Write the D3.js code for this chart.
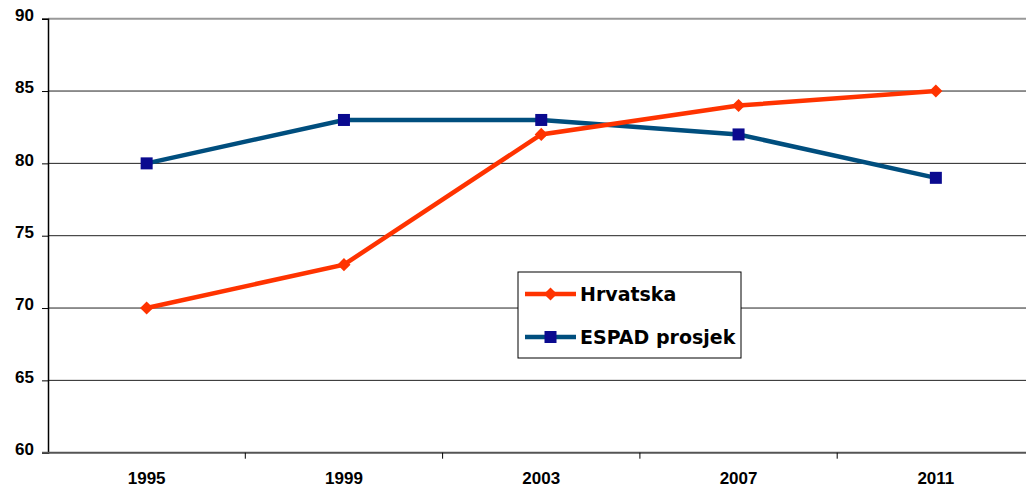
<meta charset="utf-8">
<head>
<title>Hrvatska / ESPAD prosjek</title>
<style>
body { margin: 0; background: #fff; }
svg { display: block; overflow: hidden; }
</style>
</head>
<body>
<svg width="1026" height="488"></svg>
<script src="https://d3js.org/d3.v7.min.js"></script>
<script>

var years = ["1995", "1999", "2003", "2007", "2011"];
var hrvatska = [70, 73, 82, 84, 85];
var espad = [80, 83, 83, 82, 79];
var yTicks = [60, 65, 70, 75, 80, 85, 90];

var svg = d3.select("svg");
var plotLeft = 48, plotTop = 18.7, plotBottom = 452.7;
var band = 197.3;

var x = d3.scaleBand().domain(years).range([plotLeft, plotLeft + band * years.length]);
var y = d3.scaleLinear().domain([60, 90]).range([plotBottom, plotTop]);

// horizontal grid lines
svg.append("g").selectAll("line")
  .data(yTicks.filter(function(d) { return d > 60; }))
  .enter().append("line")
  .attr("x1", plotLeft).attr("x2", 1026)
  .attr("y1", function(d) { return y(d); })
  .attr("y2", function(d) { return y(d); })
  .attr("stroke", function(d) { return d == 90 ? "#999" : "#222"; })
  .attr("stroke-width", function(d) { return d == 90 ? 2 : 1; });

// y axis
var yAxis = svg.append("g")
  .attr("transform", "translate(" + plotLeft + ",0)")
  .call(d3.axisLeft(y).tickValues(yTicks).tickSize(6).tickPadding(8));
yAxis.select(".domain").attr("stroke", "#000").attr("stroke-width", 1.5);
yAxis.selectAll(".tick line").attr("stroke", "#000");
yAxis.selectAll(".tick text")
  .attr("dy", "0.1em")
  .style("font-family", "'Liberation Sans', Arial, sans-serif")
  .style("font-weight", "bold")
  .style("font-size", "17px")
  .style("fill", "#000");

// x axis
var xAxis = svg.append("g")
  .attr("transform", "translate(0," + plotBottom + ")")
  .call(d3.axisBottom(x).tickSize(0).tickPadding(19));
xAxis.select(".domain").remove();
xAxis.selectAll(".tick text")
  .style("font-family", "'Liberation Sans', Arial, sans-serif")
  .style("font-weight", "bold")
  .style("font-size", "17px")
  .style("fill", "#000");
svg.append("line")
  .attr("x1", plotLeft - 6).attr("x2", 1026)
  .attr("y1", plotBottom).attr("y2", plotBottom)
  .attr("stroke", "#555").attr("stroke-width", 2);
svg.append("g").selectAll("line")
  .data(years.slice(1))
  .enter().append("line")
  .attr("x1", function(d) { return x(d); })
  .attr("x2", function(d) { return x(d); })
  .attr("y1", plotBottom).attr("y2", plotBottom + 6)
  .attr("stroke", "#000");

var cx = function(d, i) { return x(years[i]) + x.bandwidth() / 2; };
var line = d3.line()
  .x(function(d, i) { return x(years[i]) + x.bandwidth() / 2; })
  .y(function(d) { return y(d); });

// ESPAD prosjek
svg.append("path").datum(espad)
  .attr("d", line).attr("fill", "none")
  .attr("stroke", "#004e7e").attr("stroke-width", 4.5);

// Hrvatska
svg.append("path").datum(hrvatska)
  .attr("d", line).attr("fill", "none")
  .attr("stroke", "#ff3300").attr("stroke-width", 4.5);

svg.append("g").selectAll("rect")
  .data(espad).enter().append("rect")
  .attr("x", function(d, i) { return cx(d, i) - 6; })
  .attr("y", function(d) { return y(d) - 6; })
  .attr("width", 12).attr("height", 12)
  .attr("fill", "#0a0a8f");

var diamond = d3.symbol().type(d3.symbolDiamond2).size(110);
svg.append("g").selectAll("path")
  .data(hrvatska).enter().append("path")
  .attr("d", diamond)
  .attr("transform", function(d, i) { return "translate(" + cx(d, i) + "," + y(d) + ")"; })
  .attr("fill", "#ff3300");

// legend
var leg = svg.append("g").attr("transform", "translate(518,272)");
leg.append("rect")
  .attr("width", 223).attr("height", 86)
  .attr("fill", "#fff").attr("stroke", "#000").attr("stroke-width", 1);

var legItems = [
  { name: "Hrvatska", color: "#ff3300", y: 22 },
  { name: "ESPAD prosjek", color: "#004e7e", y: 65 }
];
legItems.forEach(function(it, i) {
  leg.append("line")
    .attr("x1", 7).attr("x2", 58)
    .attr("y1", it.y).attr("y2", it.y)
    .attr("stroke", it.color).attr("stroke-width", 4.5);
  if (i == 0) {
    leg.append("path").attr("d", diamond)
      .attr("transform", "translate(32.5," + it.y + ")")
      .attr("fill", "#ff3300");
  } else {
    leg.append("rect")
      .attr("x", 26.5).attr("y", it.y - 6)
      .attr("width", 12).attr("height", 12)
      .attr("fill", "#0a0a8f");
  }
  leg.append("text")
    .attr("x", 62).attr("y", it.y)
    .attr("dy", "0.36em")
    .style("font-family", "'DejaVu Sans', sans-serif")
    .style("font-weight", "bold")
    .style("font-size", "19px")
    .style("fill", "#000")
    .text(it.name);
});

</script>
</body>
